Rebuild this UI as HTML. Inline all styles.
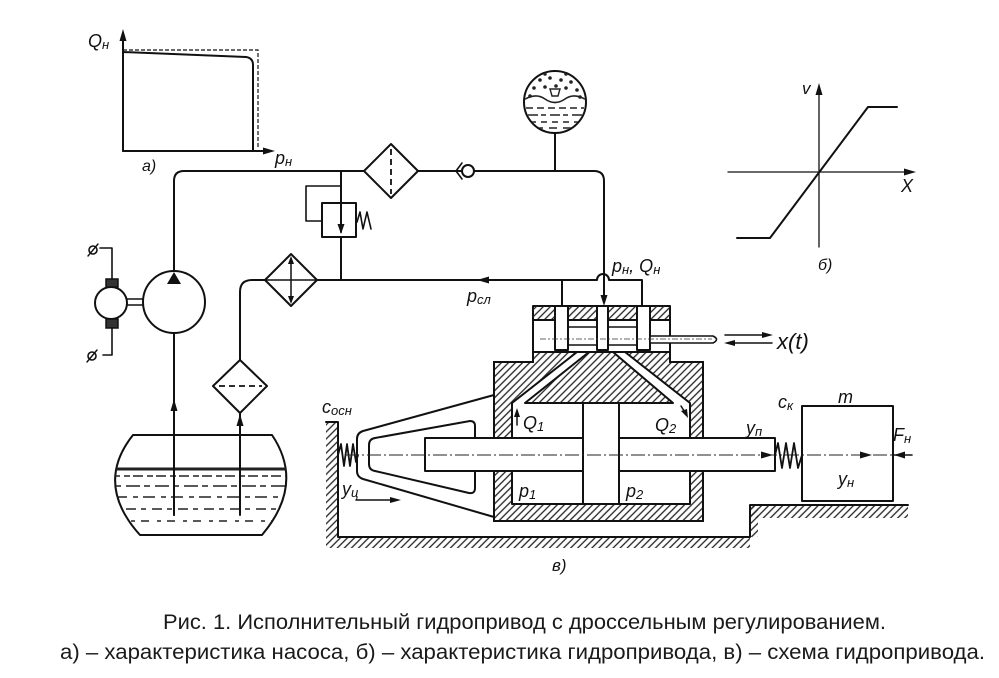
<!DOCTYPE html>
<html><head><meta charset="utf-8">
<style>
html,body{margin:0;padding:0;background:#fff;}
svg{display:block;}
.l{fill:none;stroke:#111;stroke-width:2;stroke-linejoin:round;stroke-linecap:round;}
.w{fill:#fff;stroke:#111;stroke-width:2;stroke-linejoin:round;}
.t{font-family:"Liberation Sans",sans-serif;font-style:italic;fill:#111;font-size:18px;}
.s{font-size:13px;}
.c{font-family:"Liberation Sans",sans-serif;fill:#1a1a1a;font-size:21px;}
</style></head><body>
<svg width="999" height="678" viewBox="0 0 999 678" xmlns="http://www.w3.org/2000/svg">
<defs>
<pattern id="h" width="5" height="5" patternUnits="userSpaceOnUse" patternTransform="rotate(45)">
<line x1="1" y1="-1" x2="1" y2="6" stroke="#222" stroke-width="1.3"/>
</pattern>
<clipPath id="tk"><path d="M133,435 L272,435 Q305,484 262,535 L140,535 Q94,484 133,435 Z"/></clipPath>
<clipPath id="gc"><circle cx="555" cy="102" r="30"/></clipPath>
</defs>

<!-- Graph a -->
<path class="l" d="M123,151 L123,37"/>
<path d="M123,29 L119.5,41 L126.5,41 Z" fill="#111"/>
<path class="l" d="M123,151 L265,151"/>
<path d="M275,151 L263,147.5 L263,154.5 Z" fill="#111"/>
<path class="l" d="M123,52 L246,57 Q253,58 253,65 L253,151"/>
<path d="M123,50 L258,50 L258,148" fill="none" stroke="#111" stroke-width="1.2" stroke-dasharray="4 2"/>
<text class="t" x="88" y="47">Q<tspan class="s" dy="2">н</tspan></text>
<text class="t" x="275" y="164">p<tspan class="s" dy="2">н</tspan></text>
<text class="t" x="142" y="171" style="font-size:16px">а)</text>

<!-- Graph b -->
<path class="l" style="stroke-width:1.3" d="M819,247 L819,92"/>
<path d="M819,83 L815.5,95 L822.5,95 Z" fill="#111"/>
<path class="l" style="stroke-width:1.3" d="M728,172 L906,172"/>
<path d="M916,172 L904,168.5 L904,175.5 Z" fill="#111"/>
<path class="l" d="M737,238 L770,238 L868,107 L897,107"/>
<text class="t" x="802" y="94" style="font-size:17px">v</text>
<text class="t" x="901" y="192" style="font-size:18px">X</text>
<text class="t" x="818" y="270" style="font-size:16px">б)</text>

<!-- Pressure pipe -->
<path class="l" d="M174,271 L174,181 Q174,171 184,171 L594,171 Q604,171 604,181 L604,298"/>
<path d="M604,306 L600.5,295 L607.5,295 Z" fill="#111"/>

<!-- Pump -->
<circle class="w" cx="174" cy="302" r="31"/>
<path d="M174,272 L167,284 L181,284 Z" fill="#111"/>
<path class="l" d="M174,333 L174,515"/>
<path d="M174,399 L170.5,411 L177.5,411 Z" fill="#111"/>
<!-- Motor -->
<path class="l" style="stroke-width:1.6" d="M127,299 L143,299 M127,305 L143,305"/>
<circle class="w" cx="111" cy="303" r="16"/>
<rect x="106" y="279" width="12" height="8" fill="#333" stroke="#111" stroke-width="1.5"/>
<rect x="106" y="319" width="12" height="9" fill="#333" stroke="#111" stroke-width="1.5"/>
<path class="l" style="stroke-width:1.6" d="M112,279 L112,248 L100,248 M112,328 L112,355 L103,355"/>
<circle cx="93" cy="250" r="4" fill="none" stroke="#111" stroke-width="1.6"/>
<path class="l" style="stroke-width:1.4" d="M88,256 L98,244"/>
<circle cx="92" cy="356" r="4" fill="none" stroke="#111" stroke-width="1.6"/>
<path class="l" style="stroke-width:1.4" d="M87,362 L97,350"/>

<!-- Tank -->
<path class="l" d="M133,435 L272,435 Q305,484 262,535 L140,535 Q94,484 133,435 Z"/>
<g clip-path="url(#tk)" stroke="#222" stroke-width="1.5">
<line x1="100" y1="469" x2="300" y2="469" stroke-width="3"/>
<line x1="110" y1="476" x2="300" y2="476" stroke-dasharray="10 4 6 3"/>
<line x1="115" y1="486" x2="300" y2="486" stroke-dasharray="6 5 14 4"/>
<line x1="115" y1="497" x2="300" y2="497" stroke-dasharray="12 6 5 5"/>
<line x1="115" y1="509" x2="300" y2="509" stroke-dasharray="5 6 10 5"/>
<line x1="115" y1="521" x2="300" y2="521" stroke-dasharray="8 8 4 6"/>
</g>
<path class="l" d="M174,440 L174,515"/>

<!-- Return from tank & filter 3 -->
<path class="l" d="M240,515 L240,413"/>
<path d="M240,414 L236.5,426 L243.5,426 Z" fill="#111"/>
<path class="w" d="M240,360 L267,386 L240,413 L213,386 Z"/>
<path d="M219,386 L262,386" stroke="#111" stroke-width="1.8" stroke-dasharray="6 4"/>
<path class="l" d="M240,360 L240,292 Q240,280 252,280 L265,280"/>

<!-- Filter 2 (cooler) -->
<path class="w" d="M291,254 L317,280 L291,306 L265,280 Z"/>
<path class="l" style="stroke-width:1.5" d="M265,280 L317,280 M291,262 L291,298"/>
<path d="M291,256 L288,264 L294,264 Z M291,304 L288,296 L294,296 Z" fill="#111"/>

<!-- Return line -->
<path class="l" d="M317,280 L597,280 A6,6 0 0 1 609,280 L642,280 L642,306 M562,280 L562,306"/>
<path d="M477,280 L489,276.5 L489,283.5 Z" fill="#111"/>
<text class="t" x="467" y="302">p<tspan class="s" dy="2">сл</tspan></text>
<text class="t" x="612" y="272">p<tspan class="s" dy="2">н</tspan><tspan dy="-2">, Q</tspan><tspan class="s" dy="2">н</tspan></text>

<!-- Relief valve -->
<path class="l" d="M341,171 L341,280"/>
<rect class="w" x="322" y="203" width="34" height="34"/>
<path class="l" d="M341,203 L341,232"/>
<path d="M341,234 L337.5,224 L344.5,224 Z" fill="#111"/>
<path class="l" style="stroke-width:1.6" d="M341,186 L306,186 L306,221 L322,221"/>
<path class="l" style="stroke-width:1.6" d="M357,222 L360,212 L363,229 L367,212 L371,229"/>

<!-- Filter 1 -->
<path class="w" d="M391,144 L418,171 L391,198 L364,171 Z"/>
<path d="M391,149 L391,194" stroke="#111" stroke-width="1.8" stroke-dasharray="6 4"/>

<!-- Check valve -->
<circle class="w" cx="468" cy="171" r="6"/>
<path class="l" style="stroke-width:1.6" d="M462,163 L456,171 L462,179"/>

<!-- Gauge / accumulator -->
<path class="l" d="M555,133 L555,171"/>
<circle class="w" cx="555" cy="102" r="31"/>
<g clip-path="url(#gc)" fill="#222" stroke="#222">
<circle cx="540" cy="80" r="1.3"/><circle cx="550" cy="78" r="1.3"/><circle cx="561" cy="80" r="1.3"/><circle cx="571" cy="82" r="1.3"/>
<circle cx="534" cy="88" r="1.3"/><circle cx="545" cy="87" r="1.3"/><circle cx="556" cy="86" r="1.3"/><circle cx="566" cy="88" r="1.3"/><circle cx="577" cy="90" r="1.3"/>
<circle cx="545" cy="74" r="1.3"/><circle cx="566" cy="74" r="1.3"/><circle cx="530" cy="96" r="1.3"/><circle cx="580" cy="97" r="1.3"/>
<path d="M522,101 Q535,92 545,99 Q555,106 565,99 Q575,92 588,101" fill="none" stroke-width="1.6"/>
<path d="M550,89 L560,89 L558,96 L552,96 Z" fill="none" stroke-width="1.4"/>
<g stroke-width="1.4" fill="none">
<line x1="526" y1="108" x2="584" y2="108" stroke-dasharray="7 4"/>
<line x1="528" y1="115" x2="584" y2="115" stroke-dasharray="10 3 5 4"/>
<line x1="530" y1="122" x2="584" y2="122" stroke-dasharray="6 5"/>
<line x1="535" y1="128" x2="580" y2="128" stroke-dasharray="8 6"/>
</g>
</g>

<!-- Ground -->
<rect x="326" y="422" width="12" height="115" fill="url(#h)"/>
<rect x="326" y="537" width="424" height="11" fill="url(#h)"/>
<rect x="750" y="505" width="158" height="13" fill="url(#h)"/>
<rect x="750" y="505" width="8" height="32" fill="url(#h)"/>
<path class="l" d="M326,422 L338,422 L338,537 L750,537 L750,505 L908,505"/>

<!-- Feedback arm -->
<path class="l" d="M494,395 L363,431 Q357,433 357,439 L357,471 Q357,477 363,479 L494,517"/>
<path class="l" d="M470,421 Q475,421 475,426 L475,488 Q475,494 469,493 L375,471 Q369,470 369,464 L369,445 Q369,439 375,438 Z"/>
<path class="l" style="stroke-width:1.8" d="M338,455 L341,444 L344,466 L347,444 L350,466 L353,444 L356,462 L358,455"/>
<text class="t" x="322" y="413">c<tspan class="s" dy="2">осн</tspan></text>
<text class="t" x="342" y="495">y<tspan class="s" dy="2">ц</tspan></text>
<path class="l" style="stroke-width:1.5" d="M356,500 L392,500"/>
<path d="M401,500 L390,497 L390,503 Z" fill="#111"/>

<!-- Cylinder body -->
<path d="M494,362 L533,362 L533,352 L670,352 L670,362 L703,362 L703,521 L494,521 Z" fill="url(#h)" stroke="#111" stroke-width="2"/>
<rect x="512" y="403" width="178" height="101" fill="#fff"/>
<path d="M577,352 L589,352 L525,403 L512,403 Z" fill="#fff"/>
<path d="M613,352 L625,352 L690,403 L673,403 Z" fill="#fff"/>
<path class="l" d="M577,352 L512,403 L512,504 L690,504 L690,403 L625,352 M589,352 L525,403 L673,403 L613,352"/>

<!-- Spool valve -->
<rect class="w" x="533" y="306" width="137" height="46"/>
<rect x="533" y="306" width="22" height="14" fill="url(#h)"/>
<rect x="568" y="306" width="29" height="14" fill="url(#h)"/>
<rect x="608" y="306" width="29" height="14" fill="url(#h)"/>
<rect x="650" y="306" width="20" height="14" fill="url(#h)"/>
<path class="l" d="M533,320 L670,320"/>
<rect class="w" x="555" y="306" width="13" height="44"/>
<rect class="w" x="597" y="306" width="11" height="44"/>
<rect class="w" x="637" y="306" width="13" height="44"/>
<path class="l" style="stroke-width:1.6" d="M568,327 L597,327 M568,345 L597,345 M608,327 L637,327 M608,345 L637,345"/>
<path d="M650,336 L713,336 Q720,339.5 713,343 L650,343 Z" fill="#fff" stroke="#111" stroke-width="1.6"/>
<path d="M540,339 L712,339" stroke="#333" stroke-width="0.8" stroke-dasharray="6 2 2 2"/>
<path class="l" style="stroke-width:1.5" d="M725,335 L764,335 M733,343 L772,343"/>
<path d="M773,335 L762,332 L762,338 Z M724,343 L735,340 L735,346 Z" fill="#111"/>
<text class="t" x="777" y="349" style="font-size:22px">x(t)</text>

<!-- Rods and piston -->
<rect class="w" x="425" y="438" width="158" height="33"/>
<rect class="w" x="619" y="438" width="156" height="33"/>
<rect class="w" x="583" y="403" width="36" height="101"/>
<path d="M345,455 L905,455" stroke="#222" stroke-width="1" stroke-dasharray="14 3 2 3"/>
<path d="M773,455 L761,451.5 L761,458.5 Z" fill="#111"/>
<path d="M872,455 L860,451.5 L860,458.5 Z" fill="#111"/>
<path class="l" style="stroke-width:1.6" d="M893,455 L912,455"/>
<path d="M894,455 L905,451.5 L905,458.5 Z" fill="#111"/>

<!-- Q arrows and labels -->
<path class="l" style="stroke-width:1.5" d="M517,425 L517,413"/>
<path d="M517,408 L514,417 L520,417 Z" fill="#111"/>
<path class="l" style="stroke-width:1.5" d="M681,406 L686,414"/>
<path d="M688,418 L681,411 L687,409 Z" fill="#111"/>
<text class="t" x="523" y="429">Q<tspan class="s" dy="2">1</tspan></text>
<text class="t" x="655" y="431">Q<tspan class="s" dy="2">2</tspan></text>
<text class="t" x="519" y="497">p<tspan class="s" dy="2">1</tspan></text>
<text class="t" x="626" y="497">p<tspan class="s" dy="2">2</tspan></text>

<!-- Spring and mass -->
<path class="l" style="stroke-width:1.8" d="M775,455 L778,443 L782,468 L786,443 L790,468 L794,443 L798,468 L802,455"/>
<rect class="l" x="802" y="406" width="91" height="95"/>
<text class="t" x="746" y="434">y<tspan class="s" dy="2">п</tspan></text>
<text class="t" x="778" y="408">c<tspan class="s" dy="2">к</tspan></text>
<text class="t" x="838" y="403">m</text>
<text class="t" x="893" y="441">F<tspan class="s" dy="2">н</tspan></text>
<text class="t" x="838" y="485">y<tspan class="s" dy="2">н</tspan></text>
<text class="t" x="552" y="571" style="font-size:17px">в)</text>

<!-- Caption -->
<text class="c" x="163" y="629" textLength="723" lengthAdjust="spacingAndGlyphs">Рис. 1. Исполнительный гидропривод с дроссельным регулированием.</text>
<text class="c" x="60" y="659" textLength="925" lengthAdjust="spacingAndGlyphs">а) – характеристика насоса, б) – характеристика гидропривода, в) – схема гидропривода.</text>
</svg>
</body></html>
